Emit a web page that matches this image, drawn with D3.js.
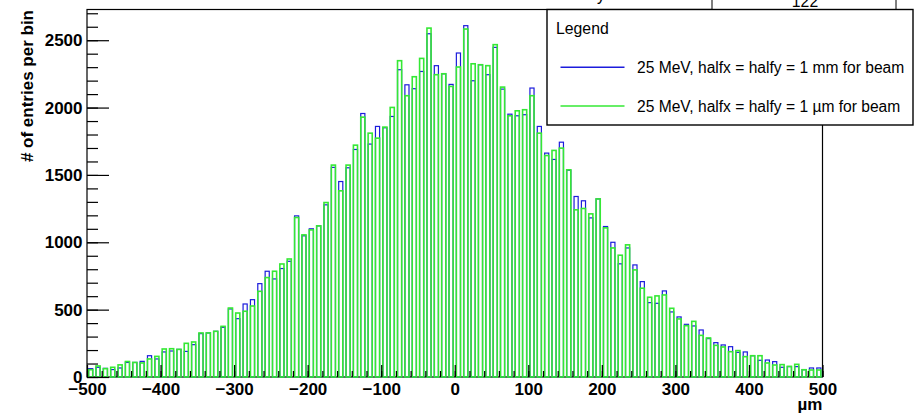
<!DOCTYPE html>
<html>
<head>
<meta charset="utf-8">
<script src="https://cdn.jsdelivr.net/npm/d3@7"></script>
<style>
body { margin: 0; background: #fff; }
svg { display: block; font-family: "Liberation Sans", Arial, Helvetica, sans-serif; }
</style>
</head>
<body>
<div class="viz-hist"></div>
<script>
var w = 920;
var h = 413;

// bins: 100 bins of 10 um from -500 to 500
var binLow = d3.range(-500, 500, 10);
var binWidth = 10;

// entries per bin
var beam1mm = [62, 72, 64, 55, 67, 108, 108, 116, 158, 134,
               186, 193, 205, 190, 240, 322, 327, 339, 369, 505,
               433, 542, 574, 693, 785, 728, 805, 859, 1196, 1048,
               1100, 1122, 1278, 1556, 1451, 1553, 1689, 1956, 1729, 1860,
               1850, 1934, 2281, 2169, 2140, 2268, 2548, 2311, 2251, 2172,
               2405, 2608, 2199, 2318, 2244, 2447, 2137, 1951, 1939, 1947,
               2145, 1860, 1662, 1615, 1743, 1535, 1340, 1308, 1181, 1322,
               1117, 1000, 840, 958, 832, 708, 552, 547, 639, 483,
               446, 391, 379, 349, 285, 255, 238, 225, 183, 186,
               158, 124, 126, 114, 72, 77, 77, 54, 67, 67];

var beam1um = [54, 82, 62, 72, 90, 115, 108, 104, 134, 153,
               208, 210, 205, 250, 260, 327, 327, 339, 376, 512,
               475, 488, 527, 636, 738, 785, 839, 876, 1184, 1055,
               1092, 1122, 1295, 1573, 1382, 1573, 1721, 1929, 1810, 1773,
               1855, 2001, 2348, 2088, 2229, 2365, 2590, 2244, 2251, 2157,
               2301, 2583, 2325, 2318, 2311, 2467, 2152, 1939, 1976, 1984,
               2088, 1810, 1644, 1682, 1699, 1538, 1241, 1251, 1211, 1322,
               1107, 958, 904, 981, 795, 659, 592, 602, 609, 510,
               431, 381, 413, 309, 290, 235, 223, 188, 196, 151,
               158, 158, 104, 89, 92, 79, 94, 54, 52, 52];

var xTickValues = [-500, -400, -300, -200, -100, 0, 100, 200, 300, 400, 500];
var xTickLabels = ["\u2212500", "\u2212400", "\u2212300", "\u2212200", "\u2212100", "0", "100", "200", "300", "400", "500"];
var yTickValues = [0, 500, 1000, 1500, 2000, 2500];
var yTickLabels = ["0", "500", "1000", "1500", "2000", "2500"];

var seriesNames = ["25 MeV, halfx = halfy = 1 mm for beam", "25 MeV, halfx = halfy = 1 \u00b5m for beam"];
var seriesColors = ["#1c1cdc", "#35e835"];

var svg = d3.select('.viz-hist')
            .append("svg")
            .attr("width", w)
            .attr("height", h);

var x = d3.scaleLinear().domain([-500, 500]).range([87, 822.5]);
var y = d3.scaleLinear().domain([0, 2728]).range([377, 9.5]);

// frame
svg.append("rect")
   .attr("x", x(-500)).attr("y", y(2728))
   .attr("width", x(500) - x(-500)).attr("height", y(0) - y(2728))
   .attr("fill", "none").attr("stroke", "#000").attr("stroke-width", 1.2);

// bars, blue first then green on top (outlines only)
function drawBars(values, color, sw) {
  svg.append("g").selectAll("rect")
     .data(values)
     .enter()
     .append("rect")
     .attr("x", function (d, i) { return x(binLow[i] + binWidth * 0.22); })
     .attr("width", function (d, i) { return x(binLow[i] + binWidth * 0.78) - x(binLow[i] + binWidth * 0.22); })
     .attr("y", function (d) { return y(d); })
     .attr("height", function (d) { return y(0) - y(d); })
     .attr("fill", "none")
     .attr("stroke", color)
     .attr("stroke-width", sw);
}
drawBars(beam1mm, seriesColors[0], 1.2);
drawBars(beam1um, seriesColors[1], 1.6);

// axes, ticks drawn inside the frame like ROOT
var xMinor = svg.append("g").attr("transform", "translate(0," + y(0) + ")")
   .call(d3.axisBottom(x).tickValues(d3.range(-500, 501, 20)).tickSize(-6).tickFormat(""));
var xMajor = svg.append("g").attr("transform", "translate(0," + y(0) + ")")
   .call(d3.axisBottom(x).tickValues(xTickValues).tickSize(-12).tickPadding(6)
          .tickFormat(function (d, i) { return xTickLabels[i]; }));
var yMinor = svg.append("g").attr("transform", "translate(" + x(-500) + ",0)")
   .call(d3.axisLeft(y).tickValues(d3.range(0, 2701, 100)).tickSize(-11).tickFormat(""));
var yMajor = svg.append("g").attr("transform", "translate(" + x(-500) + ",0)")
   .call(d3.axisLeft(y).tickValues(yTickValues).tickSize(-22).tickPadding(4.5)
          .tickFormat(function (d, i) { return yTickLabels[i]; }));

[xMinor, xMajor, yMinor, yMajor].forEach(function (g) {
  g.select(".domain").remove();
  g.selectAll(".tick line").attr("stroke", "#000").attr("stroke-width", 1.2);
  g.selectAll("text").attr("font-family", null).attr("font-size", 17)
   .attr("font-weight", "bold").attr("fill", "#000");
});

// axis titles
svg.append("text")
   .attr("transform", "translate(32.5,10) rotate(-90)")
   .attr("text-anchor", "end")
   .attr("font-size", 17).attr("font-weight", "bold")
   .text("# of entries per bin");

svg.append("text")
   .attr("x", 822.5).attr("y", 410)
   .attr("text-anchor", "end")
   .attr("font-size", 17).attr("font-weight", "bold")
   .text("\u00b5m");

// stats box peeking at the top (mostly cut off)
svg.append("rect")
   .attr("x", 712).attr("y", -30).attr("width", 184).attr("height", 40)
   .attr("fill", "#fff").attr("stroke", "#000").attr("stroke-width", 1);
svg.append("text")
   .attr("x", 805).attr("y", 7).attr("text-anchor", "middle")
   .attr("font-size", 15.8).text("122");
svg.append("text")
   .attr("x", 597).attr("y", 1).attr("font-size", 15.8).text("y");

// legend
var legend = svg.append("g");
legend.append("rect")
   .attr("x", 547).attr("y", 9.5).attr("width", 366).attr("height", 115.5)
   .attr("fill", "#fff").attr("stroke", "#000").attr("stroke-width", 1.4);
legend.append("text")
   .attr("x", 556).attr("y", 33.5).attr("font-size", 15.8).text("Legend");

var entries = legend.selectAll(".entry")
   .data(seriesNames)
   .enter()
   .append("g")
   .attr("transform", function (d, i) { return "translate(0," + (67.3 + i * 38.7) + ")"; });
entries.append("line")
   .attr("x1", 560.5).attr("x2", 624.5).attr("y1", 0).attr("y2", 0)
   .attr("stroke", function (d, i) { return seriesColors[i]; })
   .attr("stroke-width", 1.4);
entries.append("text")
   .attr("x", 637).attr("y", 5.5).attr("font-size", 15.6)
   .text(function (d) { return d; });
</script>
</body>
</html>
